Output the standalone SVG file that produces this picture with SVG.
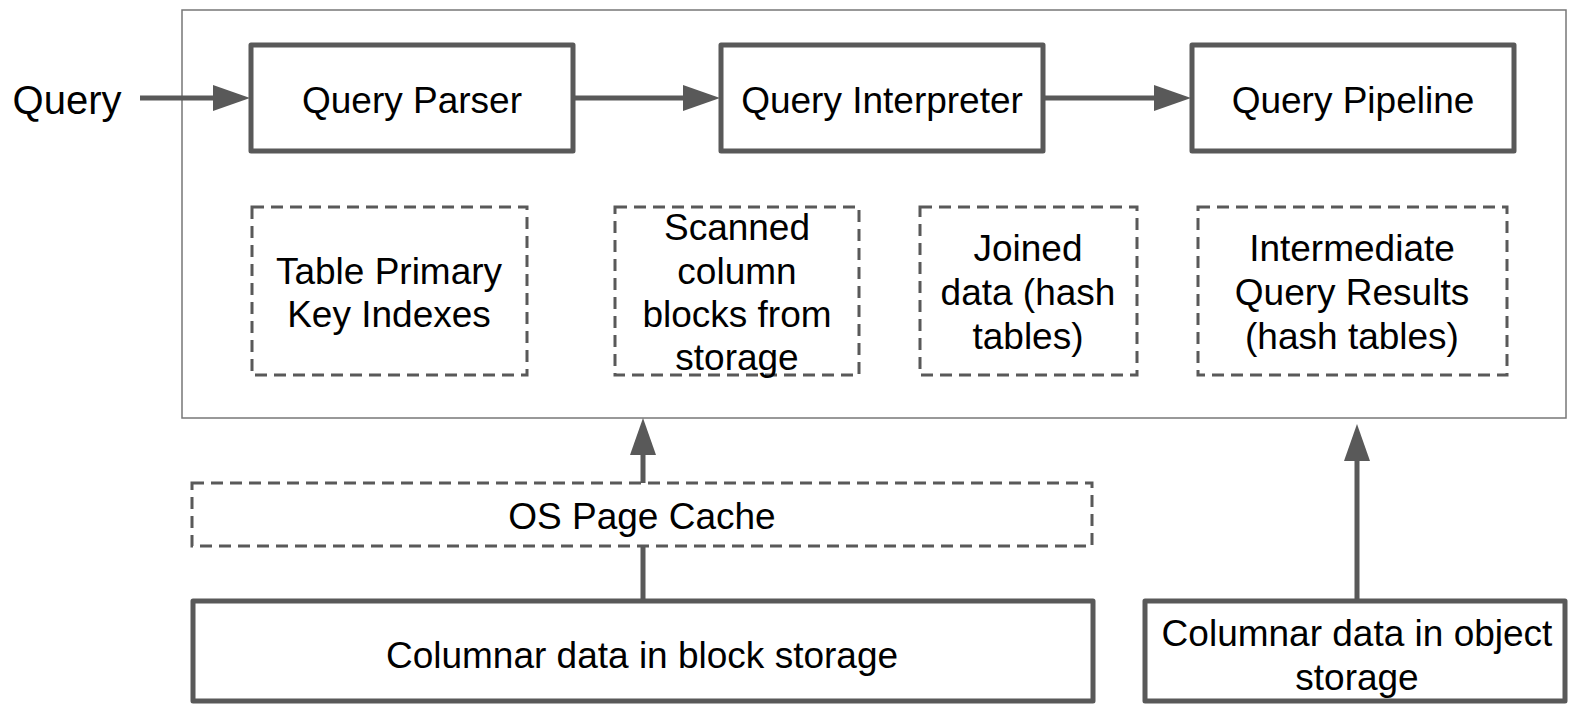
<svg xmlns="http://www.w3.org/2000/svg" width="1569" height="705" viewBox="0 0 1569 705">
<style>
.solid{fill:#fff;stroke:#595959;stroke-width:5;stroke-linejoin:round}
.dash{fill:#fff;stroke:#595959;stroke-width:3;stroke-dasharray:12 7}
.frame{fill:#fff;stroke:#777;stroke-width:1.5}
.conn{stroke:#595959;stroke-width:5;fill:none}
text{font-family:"Liberation Sans",Arial,sans-serif;font-size:37px;fill:#000;text-anchor:middle}
</style>
<defs>
<marker id="ah" markerUnits="userSpaceOnUse" markerWidth="40" markerHeight="28" refX="0" refY="13" orient="auto">
<path d="M0,0 L37,13 L0,26 z" fill="#595959"/>
</marker>
</defs>
<rect width="1569" height="705" fill="#fff"/>
<g id="container"><rect class="frame" x="182" y="10" width="1384" height="408"/></g>
<g id="query-label"><text x="67" y="114" style="font-size:40px">Query</text></g>
<g id="parser"><rect class="solid" x="251" y="45" width="322" height="106"/><text x="412" y="113">Query Parser</text></g>
<g id="interpreter"><rect class="solid" x="721" y="45" width="322" height="106"/><text x="882" y="113">Query Interpreter</text></g>
<g id="pipeline"><rect class="solid" x="1192" y="45" width="322" height="106"/><text x="1353" y="113">Query Pipeline</text></g>
<g id="pk-index"><rect class="dash" x="252" y="207" width="275" height="168"/><text x="389" y="284">Table Primary</text><text x="389" y="327">Key Indexes</text></g>
<g id="scanned"><rect class="dash" x="615" y="207" width="244" height="168"/><text x="737" y="240">Scanned</text><text x="737" y="284">column</text><text x="737" y="327">blocks from</text><text x="737" y="370">storage</text></g>
<g id="joined"><rect class="dash" x="920" y="207" width="217" height="168"/><text x="1028" y="261">Joined</text><text x="1028" y="305">data (hash</text><text x="1028" y="349">tables)</text></g>
<g id="intermediate"><rect class="dash" x="1198" y="207" width="309" height="168"/><text x="1352" y="261">Intermediate</text><text x="1352" y="305">Query Results</text><text x="1352" y="349">(hash tables)</text></g>
<g id="connectors">
<line class="conn" x1="140" y1="98" x2="213" y2="98" marker-end="url(#ah)"/>
<line class="conn" x1="573" y1="98" x2="683" y2="98" marker-end="url(#ah)"/>
<line class="conn" x1="1043" y1="98" x2="1154" y2="98" marker-end="url(#ah)"/>
<line class="conn" x1="643" y1="600" x2="643" y2="455" marker-end="url(#ah)"/>
<line class="conn" x1="1357" y1="600" x2="1357" y2="461" marker-end="url(#ah)"/>
</g>
<g id="page-cache"><rect class="dash" x="192" y="483" width="900" height="63"/><text x="642" y="529">OS Page Cache</text></g>
<g id="block-storage"><rect class="solid" x="193" y="601" width="900" height="100"/><text x="642" y="668">Columnar data in block storage</text></g>
<g id="object-storage"><rect class="solid" x="1145" y="601" width="420" height="100"/><text x="1357" y="646">Columnar data in object</text><text x="1357" y="690">storage</text></g>
</svg>
